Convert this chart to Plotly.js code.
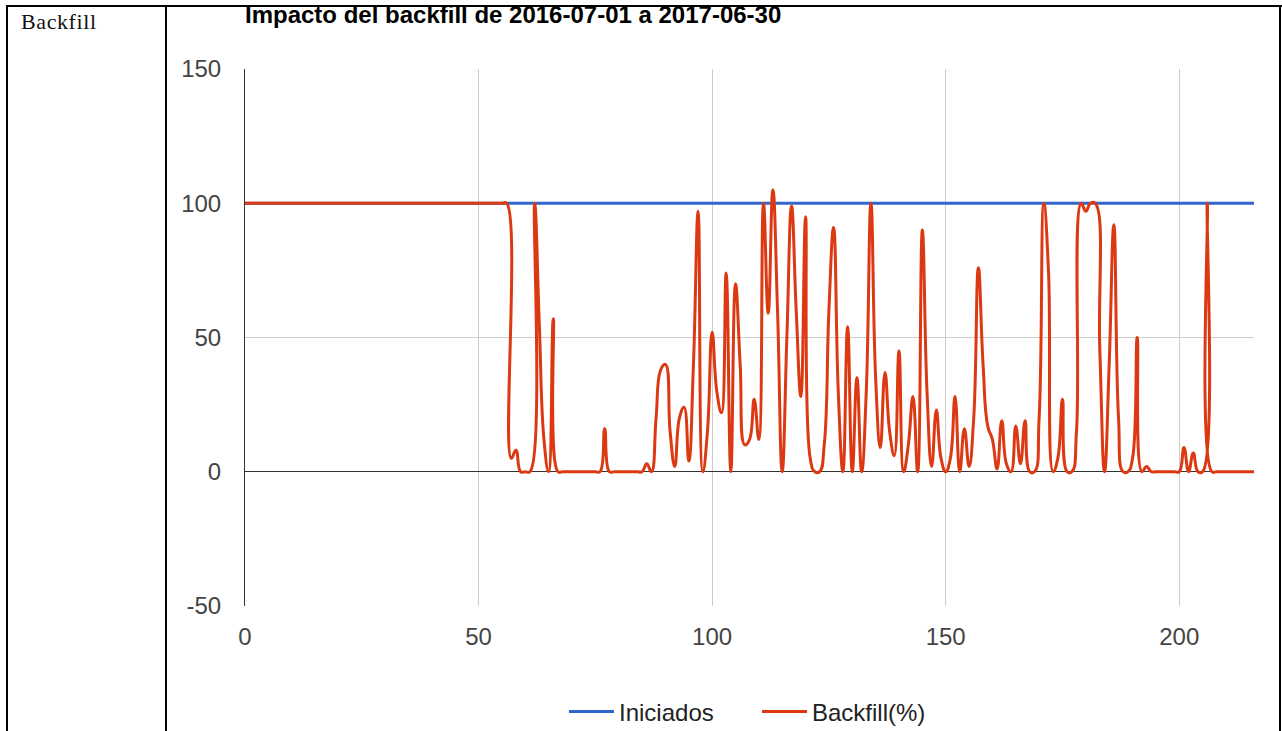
<!DOCTYPE html>
<html>
<head>
<meta charset="utf-8">
<script src="https://cdn.plot.ly/plotly-3.0.1.min.js"></script>
<style>
  html, body { margin: 0; padding: 0; background: #fff; }
  #wrap { position: relative; width: 1282px; height: 731px; overflow: hidden; }
  #chart { position: absolute; left: 0; top: 0; width: 1282px; height: 731px; }
  .b { position: absolute; background: #000; }
  #lbl { position: absolute; left: 21px; top: 9px; font-family: "Liberation Serif", "DejaVu Serif", serif; font-size: 22px; letter-spacing: 0.6px; color: #111; }
</style>
</head>
<body>
<div id="wrap">
  <div id="chart"></div>
  <div class="b" style="left:6px; top:5px; width:1276px; height:2px;"></div>
  <div class="b" style="left:6px; top:5px; width:2px; height:726px;"></div>
  <div class="b" style="left:165px; top:5px; width:2px; height:726px;"></div>
  <div class="b" style="left:1279px; top:5px; width:2px; height:726px;"></div>
  <div id="lbl">Backfill</div>
</div>
<script>
const titleText = "Impacto del backfill de 2016-07-01 a 2017-06-30";
const seriesNames = ["Iniciados", "Backfill(%)"];
const xTicks = [0, 50, 100, 150, 200];
const yTicks = [-50, 0, 50, 100, 150];

const iniciados = [
  100,100,100,100,100,100,100,100,100,100,
  100,100,100,100,100,100,100,100,100,100,
  100,100,100,100,100,100,100,100,100,100,
  100,100,100,100,100,100,100,100,100,100,
  100,100,100,100,100,100,100,100,100,100,
  100,100,100,100,100,100,100,100,100,100,
  100,100,100,100,100,100,100,100,100,100,
  100,100,100,100,100,100,100,100,100,100,
  100,100,100,100,100,100,100,100,100,100,
  100,100,100,100,100,100,100,100,100,100,
  100,100,100,100,100,100,100,100,100,100,
  100,100,100,100,100,100,100,100,100,100,
  100,100,100,100,100,100,100,100,100,100,
  100,100,100,100,100,100,100,100,100,100,
  100,100,100,100,100,100,100,100,100,100,
  100,100,100,100,100,100,100,100,100,100,
  100,100,100,100,100,100,100,100,100,100,
  100,100,100,100,100,100,100,100,100,100,
  100,100,100,100,100,100,100,100,100,100,
  100,100,100,100,100,100,100,100,100,100,
  100,100,100,100,100,100,100,100,100,100,
  100,100,100,100,100,100,100
];

const backfill = [
  100,100,100,100,100,100,100,100,100,100,
  100,100,100,100,100,100,100,100,100,100,
  100,100,100,100,100,100,100,100,100,100,
  100,100,100,100,100,100,100,100,100,100,
  100,100,100,100,100,100,100,100,100,100,
  100,100,100,100,100,100,100,5,8,0,
  0,0,100,55,12,0,57,0,0,0,
  0,0,0,0,0,0,0,16,0,0,
  0,0,0,0,0,0,3,0,20,38,
  40,15,2,20,24,4,40,97,0,15,
  52,30,22,74,0,70,40,10,12,27,
  12,100,59,105,60,0,50,99,60,28,
  95,5,0,0,10,60,91,30,0,54,
  0,35,0,30,100,35,9,37,15,6,
  45,0,10,28,0,90,30,2,23,5,
  0,5,28,0,16,2,20,76,40,17,
  12,1,19,3,0,17,3,19,0,0,
  20,100,75,0,5,27,0,0,15,100,
  97,100,100,45,0,40,92,20,0,0,
  5,50,0,2,0,0,0,0,0,0,
  0,9,0,7,0,0,100,0,0,0,
  0,0,0,0,0,0,0
];

const font = '"Liberation Sans", Arial, sans-serif';

const traces = [
  { y: iniciados, type: 'scatter', mode: 'lines', name: seriesNames[0],
    line: { color: '#3366cc', width: 3 }, hoverinfo: 'skip' },
  { y: backfill, type: 'scatter', mode: 'lines', name: seriesNames[1],
    line: { color: '#dc3912', width: 3, shape: 'spline', smoothing: 1.3 }, hoverinfo: 'skip' }
];

const layout = {
  width: 1282, height: 731,
  margin: { l: 245, r: 28, t: 69, b: 125, autoexpand: false },
  paper_bgcolor: 'rgba(0,0,0,0)',
  plot_bgcolor: 'rgba(0,0,0,0)',
  font: { family: font, size: 24, color: '#444' },
  title: {
    text: '<b>' + titleText + '</b>',
    font: { family: font, size: 24, color: '#000' },
    xref: 'paper', x: 0, xanchor: 'left',
    yref: 'container', y: 1 - 15/731, yanchor: 'middle'
  },
  xaxis: {
    range: [0, 216], tickvals: xTicks, ticktext: xTicks.map(String),
    showgrid: true, gridcolor: '#cccccc', gridwidth: 1,
    zeroline: false, showline: false, ticks: '',
    tickfont: { family: font, size: 24, color: '#444' },
    ticklabelstandoff: 14, fixedrange: true
  },
  yaxis: {
    range: [-50, 150], tickvals: yTicks, ticktext: yTicks.map(String),
    showgrid: true, gridcolor: '#cccccc', gridwidth: 1,
    zeroline: true, zerolinecolor: '#333333', zerolinewidth: 1,
    showline: true, linecolor: '#333333', linewidth: 1,
    ticks: '', tickfont: { family: font, size: 24, color: '#444' },
    ticklabelstandoff: 18, fixedrange: true
  },
  showlegend: true,
  legend: {
    orientation: 'h', xref: 'paper', x: (564 - 245) / 1009, xanchor: 'left',
    yref: 'container', y: 1 - 712 / 731, yanchor: 'middle',
    font: { family: font, size: 24, color: '#222' },
    itemwidth: 45, entrywidth: 133, entrywidthmode: 'pixels', traceorder: 'normal'
  }
};

Plotly.newPlot('chart', traces, layout, { displayModeBar: false, staticPlot: true });
</script>
</body>
</html>
